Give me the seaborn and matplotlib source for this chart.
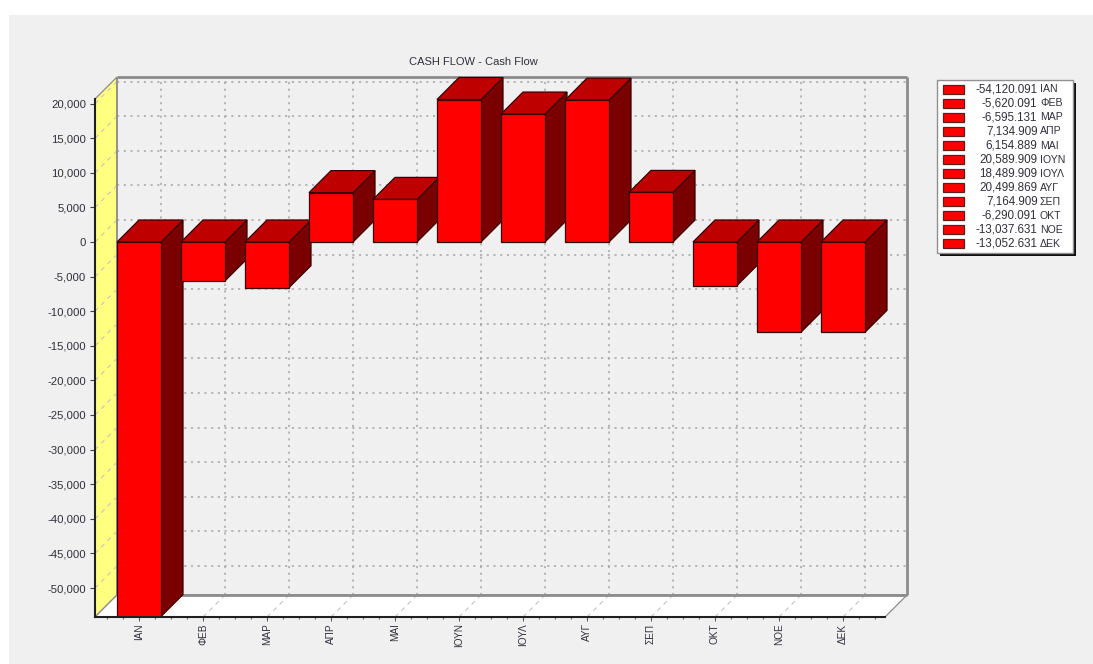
import matplotlib
matplotlib.use("Agg")
import matplotlib.pyplot as plt
import numpy as np
import pandas as pd
import seaborn as sns
from matplotlib.patches import Polygon, Rectangle
from matplotlib.ticker import FuncFormatter, MultipleLocator

# Monthly cash flow figures
months = ["ΙΑΝ", "ΦΕΒ", "ΜΑΡ", "ΑΠΡ", "ΜΑΙ", "ΙΟΥΝ", "ΙΟΥΛ", "ΑΥΓ", "ΣΕΠ", "ΟΚΤ", "ΝΟΕ", "ΔΕΚ"]
values = [-54120.091, -5620.091, -6595.131, 7134.909, 6154.889, 20589.909,
          18489.909, 20499.869, 7164.909, -6290.091, -13037.631, -13052.631]
y_ticks = list(range(-50000, 20001, 5000))
title = "CASH FLOW - Cash Flow"

W, H = 1093, 664
PANEL = "#F0F0F0"
FRONT, TOP, SIDE, EDGE = "#FF0000", "#BF0000", "#7A0000", "#3A0000"
WALL = "#FFFF80"
GRID = "#A6A6A6"
FRAME = "#8C8C8C"
INK = "#30303C"

sns.set_theme(style="white")
plt.rcParams["font.family"] = ["Liberation Sans", "DejaVu Sans"]

fig = plt.figure(figsize=(W / 100, H / 100), dpi=100, facecolor="white")
fig.patches.append(Rectangle((9 / W, 0), 1, 1 - 15 / H, transform=fig.transFigure,
                             facecolor=PANEL, edgecolor="none", zorder=-5))

# Front plane of the oblique box, in pixels: 95..885 by 99..617
ax = fig.add_axes([95 / W, (H - 617) / H, 790 / W, 518 / H])
ax.patch.set_visible(False)

df = pd.DataFrame({"month": months, "value": values})
sns.barplot(data=df, x="month", y="value", order=months, color=FRONT, saturation=1,
            width=0.6875, errorbar=None, edgecolor=EDGE, linewidth=0.9, zorder=4, ax=ax)

px_x, px_y = 64.0, 5000 / 34.6      # data units per pixel on each axis
x0, x1 = (95 - 139) / px_x, (885 - 139) / px_x
y0, y1 = -(617 - 242) * px_y, (242 - 99) * px_y
ax.set_xlim(x0, x1)
ax.set_ylim(y0, y1)

# Oblique depth of the box in data units (22 px right, 22 px up)
dx, dy = 22 / px_x, 22 * px_y


def poly(pts, **kw):
    ax.add_patch(Polygon(pts, closed=True, clip_on=False, **kw))


def line(xs, ys, **kw):
    ax.plot(xs, ys, clip_on=False, solid_capstyle="butt", **kw)


# Left wall and floor
poly([(x0, y0), (x0 + dx, y0 + dy), (x0 + dx, y1 + dy), (x0, y1)],
     facecolor=WALL, edgecolor=FRAME, linewidth=0.9, zorder=0.5)
poly([(x0, y0), (x0 + dx, y0 + dy), (x1 + dx, y0 + dy), (x1, y0)],
     facecolor="white", edgecolor=FRAME, linewidth=0.9, zorder=0.5)

# Wall and floor grid strokes, then the back-plane grid
for t in y_ticks:
    line([x0, x0 + dx], [t, t + dy], color="#C4C4C4", lw=0.8, ls=(0, (4, 4)), zorder=0.7)
    line([x0 + dx, x1 + dx], [t + dy, t + dy], color=GRID, lw=1.1, ls=(0, (1.4, 3.0)), zorder=0.7)
for i in range(len(months)):
    line([i, i + dx], [y0, y0 + dy], color="#C4C4C4", lw=0.8, ls=(0, (4, 4)), zorder=0.7)
    line([i + dx, i + dx], [y0 + dy, y1 + dy], color=GRID, lw=1.1, ls=(0, (1.4, 3.0)), zorder=0.7)

# Back frame
line([x0 + dx, x1 + dx], [y1 + dy, y1 + dy], color=FRAME, lw=2.0, zorder=0.9)
line([x1 + dx, x1 + dx], [y0 + dy, y1 + dy], color=FRAME, lw=2.0, zorder=0.9)
line([x0 + dx, x1 + dx], [y0 + dy, y0 + dy], color=FRAME, lw=2.0, zorder=0.9)
line([x0 + dx, x0 + dx], [y0 + dy, y1 + dy], color=FRAME, lw=1.2, zorder=0.9)

# Top and side faces of each bar
half = 0.6875 / 2
for i, v in enumerate(values):
    hi, lo = max(v, 0), min(v, 0)
    l, r = i - half, i + half
    poly([(r, lo), (r + dx, lo + dy), (r + dx, hi + dy), (r, hi)],
         facecolor=SIDE, edgecolor=EDGE, linewidth=0.9, zorder=2)
    poly([(l, hi), (l + dx, hi + dy), (r + dx, hi + dy), (r, hi)],
         facecolor=TOP, edgecolor=EDGE, linewidth=0.9, zorder=2)

# Axes furniture
for name in ("top", "right"):
    ax.spines[name].set_visible(False)
for name in ("left", "bottom"):
    ax.spines[name].set_color("#202020")
    ax.spines[name].set_linewidth(1.5)
    ax.spines[name].set_zorder(6)

ax.set_xlabel("")
ax.set_ylabel("")
ax.set_yticks(y_ticks)
ax.yaxis.set_major_formatter(FuncFormatter(lambda v, _: f"{v:,.0f}"))
ax.xaxis.set_minor_locator(MultipleLocator(0.25))
ax.tick_params(axis="y", which="major", left=True, length=3.5, width=0.8, pad=3,
               labelsize=8.2, labelcolor=INK, color="#404040")
ax.tick_params(axis="x", which="major", bottom=True, length=2.6, width=0.8, pad=2,
               labelsize=7.2, labelcolor=INK, color="#606060", labelrotation=90)
ax.tick_params(axis="x", which="minor", bottom=True, length=1.4, width=0.8, color="#606060")

# Title and value key share a pixel-addressed overlay
key = fig.add_axes([0, 0, 1, 1], zorder=10)
key.set_xlim(0, W)
key.set_ylim(H, 0)
key.axis("off")
key.text(473, 62, title, ha="center", va="center", fontsize=8, color=INK)

key.add_patch(Rectangle((940, 83), 136, 173, facecolor="#101010", edgecolor="none"))
key.add_patch(Rectangle((937, 80), 136, 173, facecolor="white", edgecolor="#909090", linewidth=1))
for i, (m, v) in enumerate(zip(months, values)):
    yc = 89.3 + i * 14.06
    key.add_patch(Rectangle((943, yc - 4.5), 21, 9, facecolor=FRONT, edgecolor="#5A2020", linewidth=0.9))
    key.text(1037.5, yc, f"{v:,.3f}", ha="right", va="center", fontsize=8.4, color=INK)
    key.text(1040, yc, m, ha="left", va="center", fontsize=7.6, color=INK)

fig.savefig("out.png", dpi=100, facecolor=fig.get_facecolor())
